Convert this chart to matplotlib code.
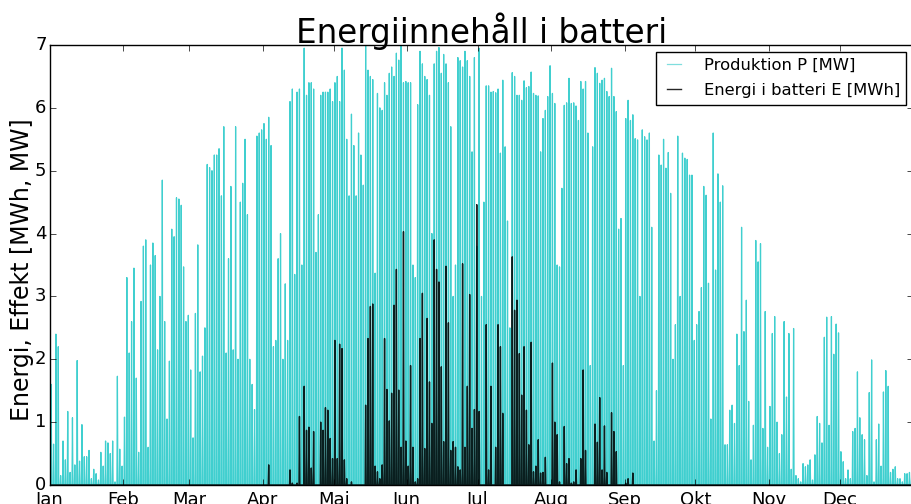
import numpy as np
import matplotlib
matplotlib.use("Agg")
import matplotlib.pyplot as plt

# Daily peak production P [MW], read per month
prod_jan = [1.6,0.65,2.4,2.2,0.15,0.7,0.4,1.17,0.2,1.07,0.32,1.98,0.38,0.96,0.45,0.45,0.55,0.1,0.25,0.18,0.08,0.52,0.3,0.7,0.67,0.5,0.7,0.05,1.73,0.57,0.3]
prod_feb = [1.08,3.3,2.1,2.6,3.45,1.7,0.52,2.92,3.8,3.9,0.6,3.5,3.85,3.65,2.15,3.0,4.85,2.6,1.05,1.97,4.07,3.95,4.57,4.55,4.45,3.47,2.6,2.7]
prod_mar = [1.83,0.75,2.73,3.82,1.8,2.05,2.5,5.1,5.05,5.0,5.25,5.25,5.35,4.6,5.7,2.1,3.6,4.75,2.15,5.7,2.0,4.5,4.8,5.5,4.3,2.0,1.6,1.2,5.55,5.6,5.65]
prod_apr = [5.75,5.5,5.85,5.4,2.2,2.3,3.6,4.0,2.0,3.2,2.3,6.1,6.3,3.35,6.25,6.3,3.5,6.95,6.2,6.4,6.4,6.3,3.7,4.3,6.2,6.25,6.25,6.25,6.3,6.1]
prod_may = [6.4,6.5,6.1,6.95,6.6,5.5,4.6,5.9,5.4,4.6,5.6,5.25,4.77,7.0,6.6,6.5,6.45,3.37,6.23,6.0,5.96,6.4,6.2,6.55,6.65,6.5,6.87,6.76,7.0,6.4,6.42]
prod_jun = [6.4,6.4,3.5,3.3,6.05,6.9,6.7,6.5,6.45,6.2,4.0,6.7,6.9,6.96,6.55,6.85,6.7,6.4,5.7,3.0,3.5,6.8,6.75,6.65,6.9,6.75,6.5,5.3,6.8,3.8]
prod_jul = [6.95,3.0,4.5,6.35,6.35,6.25,6.26,6.24,6.3,5.28,6.44,5.38,4.2,2.5,6.56,6.5,6.2,6.2,6.12,6.43,6.32,6.34,6.57,6.23,6.2,6.19,5.3,5.83,5.96,6.18,6.67]
prod_aug = [6.23,6.07,3.5,3.47,4.72,6.04,6.08,6.47,6.07,6.08,6.03,5.8,6.42,6.3,6.42,5.6,1.9,5.38,6.64,6.55,6.39,6.44,6.47,6.26,6.18,6.63,6.18,5.94,4.07,4.24,1.9]
prod_sep = [5.83,6.12,5.8,5.89,5.51,5.49,3.0,5.65,5.54,5.49,5.6,4.1,0.7,1.5,5.25,5.09,5.5,5.04,5.29,4.64,2.0,2.55,5.55,3.0,5.28,5.2,5.18,4.93,4.93,2.3]
prod_oct = [2.55,2.76,3.14,4.75,4.61,3.21,1.05,5.6,3.42,4.95,4.5,4.76,0.64,0.64,1.19,1.27,0.98,2.4,1.9,4.1,2.44,2.94,1.33,0.4,0.95,3.89,3.55,3.84,0.9,2.76,0.6]
prod_nov = [1.25,2.41,2.68,1.0,0.5,0.8,2.6,1.4,2.41,0.25,2.49,0.15,0.1,0.05,0.34,0.29,0.32,0.4,0.08,0.48,1.09,0.98,0.67,2.35,2.67,0.95,2.68,2.08,2.56,2.42]
prod_dec = [0.53,0.37,0.1,0.24,0.1,0.85,0.9,1.8,1.07,0.8,0.72,0.15,1.47,1.99,0.05,0.72,0.97,0.3,1.48,1.82,1.57,0.2,0.25,0.29,0.1,0.1,0.05,0.18,0.18,0.2,0.2]

# Daily peak battery energy E [MWh] (zero outside Apr-Sep)
bat_apr = [0,0,0.32,0,0,0,0,0,0,0, 0,0.24,0.03,0,0.03,1.09,0,1.57,0.87,0.92, 0.27,0.85,0,0,1.0,0.87,1.23,1.19,0.74,0.42]
bat_may = [2.3,0.42,2.24,2.17,0.4,0.1,0,0.05,0,0, 0,0,0,1.27,2.33,2.84,2.88,0.3,0.21,0.1, 0.32,2.33,1.52,1.02,1.46,2.86,3.43,1.51,0.6,4.03, 0.7]
bat_jun = [0.3,1.9,0.6,0.05,0.1,2.33,3.05,0.58,2.65,1.64, 0.98,3.9,3.43,3.23,1.88,0.69,3.48,2.58,0.55,0.69, 0.6,0.29,0.24,3.52,0.6,1.57,3.03,0.9,1.2,4.46]
bat_jul = [1.17,0,0,2.55,0.24,1.57,0,0.6,2.55,2.2, 1.14,0,0,0,3.63,2.78,2.94,2.09,1.43,2.2, 1.19,0.64,2.27,0.21,0.3,0.72,0.19,0.2,0.44,0, 0]
bat_aug = [1.94,1.0,0.8,0.05,0,0.93,0.34,0.42,0.03,0.05, 0.24,0,0.42,1.83,0.55,0,0,0,0.97,0.68, 1.39,0.24,0.94,0.2,0,1.15,0.85,0.53,0,0, 0]
bat_sep = [0.03,0.1,0,0.19] + [0] * 26

month_labels = ["Jan", "Feb", "Mar", "Apr", "Maj", "Jun", "Jul", "Aug", "Sep", "Okt", "Nov", "Dec"]
month_days = [31, 28, 31, 30, 31, 30, 31, 31, 30, 31, 30, 31]

prod = np.array(prod_jan + prod_feb + prod_mar + prod_apr + prod_may + prod_jun +
                prod_jul + prod_aug + prod_sep + prod_oct + prod_nov + prod_dec)
bat = np.concatenate([np.zeros(sum(month_days[:3])),
                      bat_apr, bat_may, bat_jun, bat_jul, bat_aug, bat_sep,
                      np.zeros(sum(month_days[9:]))])

def spikes(peaks, half):
    d = np.arange(len(peaks), dtype=float)
    xs = np.column_stack([d + 0.5 - half, d + 0.5, d + 0.5 + half]).ravel()
    ys = np.column_stack([np.zeros_like(peaks), peaks, np.zeros_like(peaks)]).ravel()
    return xs, ys

plt.style.use("classic")
plt.rcParams["font.family"] = ["DejaVu Sans"]

fig = plt.figure(figsize=(9.12, 5.04), dpi=100, facecolor="white")
ax = fig.add_axes([50/912, 19/504, 863/912, 440/504])
ax.set_facecolor("white")

px, py = spikes(prod, 0.2)
bx, by = spikes(bat, 0.2)
ax.plot(px, py, color=(0, 0.75, 0.75), alpha=0.75, lw=0.9, label="Produktion P [MW]")
ax.plot(bx, by, color="black", alpha=0.85, lw=1.0, label="Energi i batteri E [MWh]")

ticks = np.concatenate([[0], np.cumsum(month_days)[:-1]])
ax.set_xticks(ticks)
ax.set_xticklabels(month_labels)
ax.set_xlim(0, 365)
ax.set_ylim(0, 7)
ax.set_yticks(range(0, 8))
ax.tick_params(axis="both", which="major", labelsize=13, direction="in", top=True, right=True, length=4)
ax.tick_params(axis="y", pad=2.5)
ax.set_title("Energiinnehåll i batteri", fontsize=23.5, pad=1.5)
ax.set_ylabel("Energi, Effekt [MWh, MW]", fontsize=17, labelpad=0)
ax.yaxis.set_label_coords(-0.0188, 0.489)

leg = ax.legend(loc="upper right", fontsize=11.8, fancybox=False, framealpha=1, numpoints=2,
                handlelength=1.4, handletextpad=1.1, borderpad=0.4, labelspacing=0.6,
                borderaxespad=0.4)
leg.get_frame().set_edgecolor("black")
leg.get_lines()[0].set_alpha(0.5)

fig.savefig("out.png", dpi=100, facecolor="white")
